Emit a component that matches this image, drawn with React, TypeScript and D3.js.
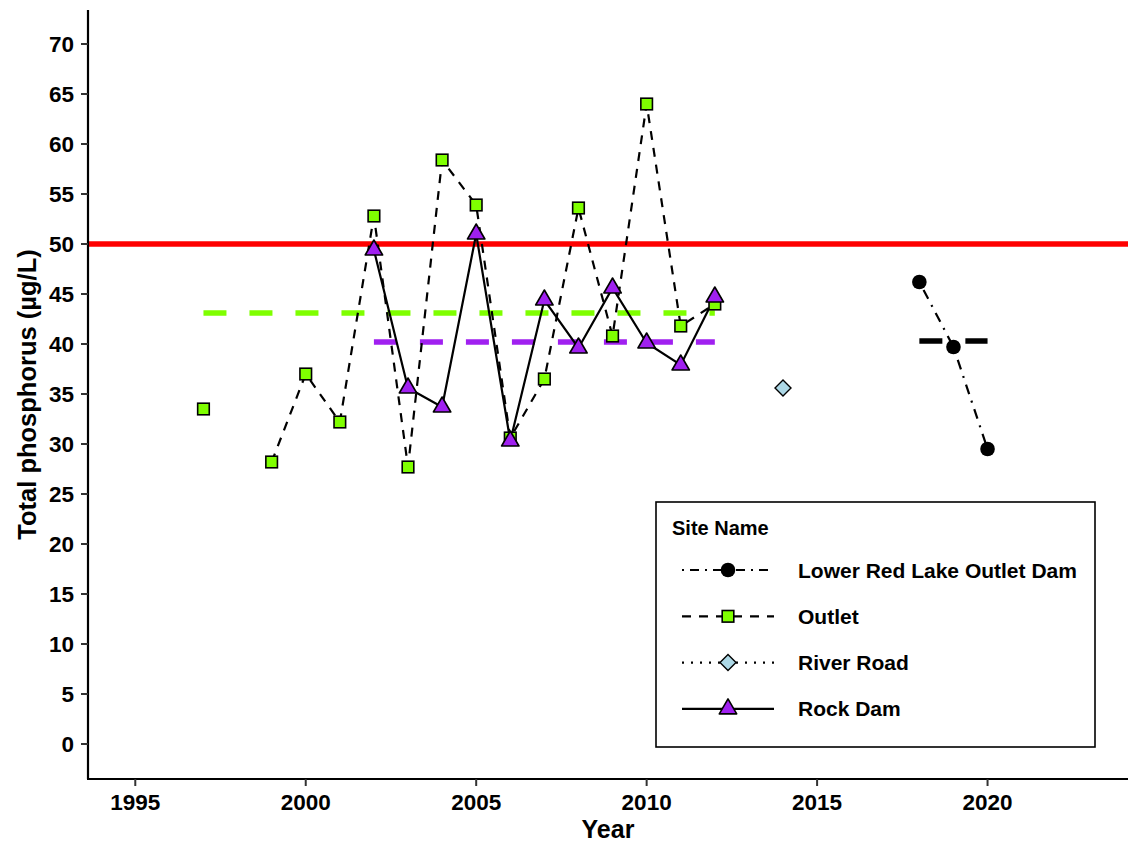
import React from 'react';
import * as d3 from 'd3';

// Outlet (green squares); 1998 missing so the line breaks after 1997
const outletYears = [1997, 1998, 1999, 2000, 2001, 2002, 2003, 2004, 2005, 2006, 2007, 2008, 2009, 2010, 2011, 2012];
const outletTP = [33.5, null, 28.2, 37.0, 32.2, 52.8, 27.7, 58.4, 53.9, 30.6, 36.5, 53.6, 40.8, 64.0, 41.8, 44.0];

const rockYears = [2002, 2003, 2004, 2005, 2006, 2007, 2008, 2009, 2010, 2011, 2012];
const rockTP = [49.4, 35.6, 33.7, 51.0, 30.3, 44.4, 39.6, 45.6, 40.1, 37.9, 44.7];

const lrlYears = [2018, 2019, 2020];
const lrlTP = [46.2, 39.7, 29.5];

const riverYears = [2014];
const riverTP = [35.6];

// site means drawn as thick dashed segments
const meanSites = ['Outlet', 'Rock Dam', 'Lower Red Lake Outlet Dam'];
const meanStart = [1997, 2002, 2018];
const meanEnd = [2012, 2012, 2020];
const meanValue = [43.1, 40.2, 40.3];
const meanColor = ['#7fff00', '#a020f0', '#000000'];

const standard = 50;

const xTicks = [1995, 2000, 2005, 2010, 2015, 2020];
const yTicks = [0, 5, 10, 15, 20, 25, 30, 35, 40, 45, 50, 55, 60, 65, 70];

const legendNames = ['Lower Red Lake Outlet Dam', 'Outlet', 'River Road', 'Rock Dam'];

const W = 1128;
const H = 842;
const left = 88;
const right = 1128;
const top = 10;
const bottom = 779;

const font = '"Liberation Sans", Arial, sans-serif';

const x = d3.scaleLinear().domain([1993.613, 2024.12]).range([left, right]);
const y = d3.scaleLinear().domain([-3.5, 73.4]).range([bottom, top]);

const square = (cx: number, cy: number) => (
  <rect x={cx - 5.8} y={cy - 5.8} width={11.6} height={11.6} fill="#7fff00" stroke="#000" strokeWidth={1.6} />
);
const triangle = (cx: number, cy: number) => {
  const r = 10;
  const p = `M${cx},${cy - r}L${cx + r * 0.87},${cy + r * 0.5}L${cx - r * 0.87},${cy + r * 0.5}Z`;
  return <path d={p} fill="#a020f0" stroke="#000" strokeWidth={1.6} strokeLinejoin="round" />;
};
const circle = (cx: number, cy: number) => <circle cx={cx} cy={cy} r={7.3} fill="#000" />;
const diamond = (cx: number, cy: number) => {
  const r = 8;
  const p = `M${cx},${cy - r}L${cx + r},${cy}L${cx},${cy + r}L${cx - r},${cy}Z`;
  return <path d={p} fill="#add8e6" stroke="#000" strokeWidth={1.4} />;
};

const markers = [circle, square, diamond, triangle];
const dashes = ['2,6,9,6', '9,8', '2,7', 'none'];

export default function App() {
  const outletLine = d3
    .line<number | null>()
    .defined((d) => d != null)
    .x((_, i) => x(outletYears[i]))
    .y((d) => y(d as number));
  const rockLine = d3
    .line<number>()
    .x((_, i) => x(rockYears[i]))
    .y((d) => y(d));
  const lrlLine = d3
    .line<number>()
    .x((_, i) => x(lrlYears[i]))
    .y((d) => y(d));

  const legX = 656;
  const legY = 502;

  return (
    <svg width={W} height={H} style={{ display: 'block', position: 'absolute', left: 0, top: 0 }} fontFamily={font}>
      <rect width={W} height={H} fill="#fff" />

      {/* standard */}
      <line x1={left} x2={right} y1={y(standard)} y2={y(standard)} stroke="#ff0000" strokeWidth={5.5} />

      {/* means */}
      {meanSites.map((s, i) => (
        <line
          key={s}
          x1={x(meanStart[i])}
          x2={x(meanEnd[i])}
          y1={y(meanValue[i])}
          y2={y(meanValue[i])}
          stroke={meanColor[i]}
          strokeWidth={5.5}
          strokeDasharray="23,23"
        />
      ))}

      {/* lines */}
      <path d={lrlLine(lrlTP) || ''} fill="none" stroke="#000" strokeWidth={2.2} strokeDasharray="2,7,10,7" />
      <path d={outletLine(outletTP) || ''} fill="none" stroke="#000" strokeWidth={2.2} strokeDasharray="9,8" />
      <path d={rockLine(rockTP) || ''} fill="none" stroke="#000" strokeWidth={2.2} />

      {/* points */}
      {outletTP.map((v, i) => (v == null ? null : <g key={'o' + i}>{square(x(outletYears[i]), y(v))}</g>))}
      {rockTP.map((v, i) => <g key={'r' + i}>{triangle(x(rockYears[i]), y(v))}</g>)}
      {lrlTP.map((v, i) => <g key={'l' + i}>{circle(x(lrlYears[i]), y(v))}</g>)}
      {riverTP.map((v, i) => <g key={'v' + i}>{diamond(x(riverYears[i]), y(v))}</g>)}

      {/* axes */}
      <line x1={left} x2={left} y1={top} y2={bottom} stroke="#000" strokeWidth={2.2} />
      <line x1={left - 1} x2={right} y1={bottom} y2={bottom} stroke="#000" strokeWidth={2.2} />
      {yTicks.map((t) => (
        <g key={'y' + t}>
          <line x1={left - 7} x2={left} y1={y(t)} y2={y(t)} stroke="#333" strokeWidth={2} />
          <text x={left - 14} y={y(t)} dy="0.36em" textAnchor="end" fontSize={22.5} fontWeight="bold" fill="#000">
            {t}
          </text>
        </g>
      ))}
      {xTicks.map((t) => (
        <g key={'x' + t}>
          <line x1={x(t)} x2={x(t)} y1={bottom} y2={bottom + 7} stroke="#333" strokeWidth={2} />
          <text x={x(t)} y={bottom + 31} textAnchor="middle" fontSize={22.5} fontWeight="bold" fill="#000">
            {t}
          </text>
        </g>
      ))}
      <text x={(left + right) / 2} y={838} textAnchor="middle" fontSize={25} fontWeight="bold" fill="#000">
        Year
      </text>
      <text
        transform={`translate(36,${(top + bottom) / 2}) rotate(-90)`}
        textAnchor="middle"
        fontSize={25.5}
        fontWeight="bold"
        fill="#000"
      >
        Total phosphorus (µg/L)
      </text>

      {/* legend */}
      <rect x={legX} y={legY} width={439} height={245} fill="#fff" stroke="#000" strokeWidth={1.6} />
      <text x={legX + 16} y={legY + 33} fontSize={20} fontWeight="bold" fill="#000">
        Site Name
      </text>
      {legendNames.map((n, i) => {
        const cy = legY + 68 + i * 46.3;
        return (
          <g key={n}>
            <line
              x1={legX + 26}
              x2={legX + 118}
              y1={cy}
              y2={cy}
              stroke="#000"
              strokeWidth={2.2}
              strokeDasharray={dashes[i]}
            />
            {markers[i](legX + 72, cy)}
            <text x={legX + 142} y={cy} dy="0.36em" fontSize={21} fontWeight="bold" fill="#000">
              {n}
            </text>
          </g>
        );
      })}
    </svg>
  );
}
